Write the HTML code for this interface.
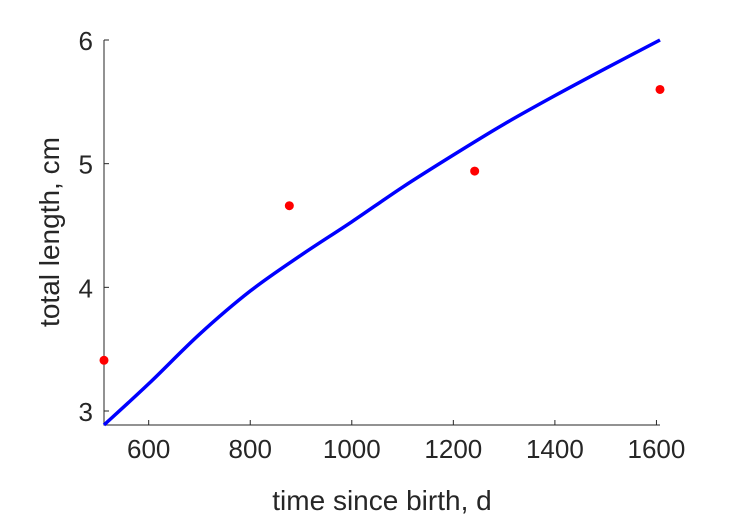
<!DOCTYPE html>
<html><head><meta charset="utf-8"><style>
body{margin:0;background:#fff}
text{font-family:"Liberation Sans",sans-serif;fill:#262626}
</style></head><body>
<svg width="729" height="521">
<g id="axes"></g>
<g id="marks"></g>
</svg>
<script>
const xTicks=[600,800,1000,1200,1400,1600];
const yTicks=[3,4,5,6];
const curveX=[512,600,700,800,900,1000,1100,1200,1300,1400,1500,1607];
const curveY=[2.887,3.22,3.62,3.97,4.26,4.53,4.81,5.07,5.32,5.55,5.77,6.0];
const dataX=[512,877,1242,1607];
const dataY=[3.41,4.66,4.94,5.60];
const X0=104,X1=660,Y0=425,Y1=40;
const xmin=512,xmax=1607;
const sx=v=>X0+(v-xmin)/(xmax-xmin)*(X1-X0);
const sy=v=>411+(3-v)*(411-40)/3;
const NS='http://www.w3.org/2000/svg';
const ax=document.getElementById('axes'),mk=document.getElementById('marks');
function mkEl(t,a,p){const e=document.createElementNS(NS,t);for(const k in a)e.setAttribute(k,a[k]);p.appendChild(e);return e;}
let l=mkEl('path',{d:`M${X0},${Y1}V${Y0}H${X1}`,stroke:'#262626',fill:'none','stroke-width':1},ax);


xTicks.forEach(v=>{const x=sx(v);
 const t=mkEl('line',{x1:x,x2:x,y1:Y0,y2:Y0-5,stroke:'#262626'},ax);
 
 
 const tx=mkEl('text',{x:x,y:Y0+33,'text-anchor':'middle','font-size':26},ax);tx.textContent=v;
 
 });
yTicks.forEach(v=>{const y=sy(v);
 const t=mkEl('line',{x1:X0,x2:X0+5,y1:y,y2:y,stroke:'#262626'},ax);
 
 
 const tx=mkEl('text',{x:X0-11,y:y+10,'text-anchor':'end','font-size':26},ax);tx.textContent=v;
 
 });
let xl=mkEl('text',{x:382,y:510,'text-anchor':'middle','font-size':28},ax);xl.textContent='time since birth, d';


let yl=mkEl('text',{x:0,y:0,'text-anchor':'middle','font-size':28,transform:'translate(59,232) rotate(-90)'},ax);yl.textContent='total length, cm';


const pts=curveX.map((v,i)=>[sx(v),sy(curveY[i])]);
let d='M'+pts[0].join(',');
for(let i=0;i<pts.length-1;i++){const p0=pts[i-1]||pts[i],p1=pts[i],p2=pts[i+1],p3=pts[i+2]||p2;
 d+=`C${p1[0]+(p2[0]-p0[0])/6},${p1[1]+(p2[1]-p0[1])/6} ${p2[0]-(p3[0]-p1[0])/6},${p2[1]-(p3[1]-p1[1])/6} ${p2[0]},${p2[1]}`;}
let c=mkEl('path',{d:d,stroke:'#0000ff','stroke-width':3.5,fill:'none'},mk);


dataX.forEach((v,i)=>{const p=mkEl('circle',{cx:sx(v),cy:sy(dataY[i]),r:4.5,fill:'#ff0000'},mk);
 
 });
</script>
</body></html>
